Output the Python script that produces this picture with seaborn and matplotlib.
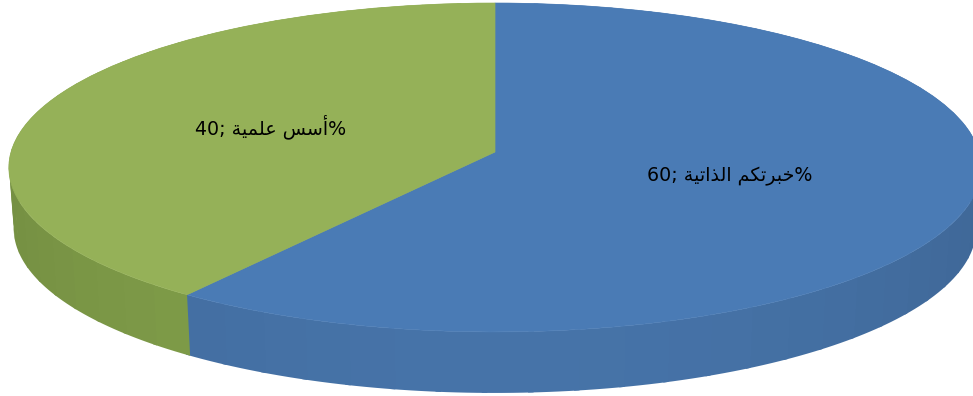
import numpy as np
import matplotlib
matplotlib.use("Agg")
import matplotlib.pyplot as plt
from matplotlib.transforms import Transform
import seaborn as sns

# Chart content
share_values = [60, 40]
share_names = ["خبرتكم الذاتية", "أسس علمية"]
face_colors = ["#4A7BB5", "#95B158"]
side_colors = ["#4673A8", "#82A04A"]
label_spots = [(730, 176), (270.5, 127)]

# Tilted-disc geometry, in figure pixels
CX, CY = 495.0, 152.0
RX, RY = 484.0, 163.0
FORESHORTEN = 0.0942
DEPTH = 61.0
BASE_SCALE = 0.99
FACET_DEG = 5.0
FACET_OVERLAP = np.radians(0.6)


class DiscProjection(Transform):
    """Perspective view of the unit pie circle, lying tilted away from the viewer."""
    input_dims = 2
    output_dims = 2
    is_separable = False

    def __init__(self, drop=0.0, scale=1.0):
        super().__init__()
        self.drop = drop
        self.scale = scale

    def transform_non_affine(self, values):
        values = np.asarray(values, dtype=float)
        u, v = values[:, 0], values[:, 1]
        w = 1.0 + FORESHORTEN * v
        return np.column_stack([CX + self.scale * RX * u / w,
                                CY + self.drop - RY * v / w])


# Arabic letters as (isolated, final, initial, medial) presentation forms
FORMS = {
    "ا": ("\uFE8D", "\uFE8E", None, None),
    "أ": ("\uFE83", "\uFE84", None, None),
    "ذ": ("\uFEAB", "\uFEAC", None, None),
    "ر": ("\uFEAD", "\uFEAE", None, None),
    "ة": ("\uFE93", "\uFE94", None, None),
    "ب": ("\uFE8F", "\uFE90", "\uFE91", "\uFE92"),
    "ت": ("\uFE95", "\uFE96", "\uFE97", "\uFE98"),
    "خ": ("\uFEA5", "\uFEA6", "\uFEA7", "\uFEA8"),
    "س": ("\uFEB1", "\uFEB2", "\uFEB3", "\uFEB4"),
    "ع": ("\uFEC9", "\uFECA", "\uFECB", "\uFECC"),
    "ك": ("\uFED9", "\uFEDA", "\uFEDB", "\uFEDC"),
    "ل": ("\uFEDD", "\uFEDE", "\uFEDF", "\uFEE0"),
    "م": ("\uFEE1", "\uFEE2", "\uFEE3", "\uFEE4"),
    "ي": ("\uFEF1", "\uFEF2", "\uFEF3", "\uFEF4"),
}


def shape_word(word):
    """Join the letters of one word and return them in left-to-right drawing order."""
    shaped = []
    for i, ch in enumerate(word):
        before = i > 0 and FORMS[word[i - 1]][2] is not None
        after = i < len(word) - 1 and FORMS[ch][2] is not None
        forms = FORMS[ch]
        if before and after:
            shaped.append(forms[3])
        elif before:
            shaped.append(forms[1])
        elif after:
            shaped.append(forms[2])
        else:
            shaped.append(forms[0])
    return "".join(reversed(shaped))


def slice_label(name, value):
    words = [shape_word(w) for w in name.split(" ")]
    return f"{value}; " + " ".join(reversed(words)) + "%"


sns.set_theme(style="white")
plt.rcParams["font.family"] = ["DejaVu Sans"]

fig = plt.figure(figsize=(9.73, 3.96), dpi=100, facecolor="white")
ax = fig.add_axes([0, 0, 1, 1])

wedges, _ = ax.pie(share_values, colors=sns.color_palette(face_colors), startangle=90,
                   counterclock=False, radius=1.0,
                   wedgeprops={"linewidth": 0.5, "zorder": 3})
ax.set_aspect("auto")
ax.set_xlim(0, 973)
ax.set_ylim(396, 0)
ax.axis("off")

top_face = DiscProjection()
bottom_rim = DiscProjection(drop=DEPTH, scale=BASE_SCALE)
for wedge in wedges:
    wedge.set_edgecolor(wedge.get_facecolor())
    wedge.set_transform(top_face + ax.transData)

# Rim: narrow facets around each slice, a little darker towards the sides.
# Each facet runs slightly under the next one so no seam shows between them.
start = 90.0
total = sum(share_values)
for value, base in zip(share_values, side_colors):
    sweep = 360.0 * value / total
    n_facets = max(1, int(round(sweep / FACET_DEG)))
    edges = np.radians(start - np.linspace(0, sweep, n_facets + 1))
    base_rgb = np.array(matplotlib.colors.to_rgb(base))
    for a0, a1 in zip(edges[:-1], edges[1:]):
        arc = np.linspace(a0, a1 - FACET_OVERLAP, 6)
        ring = np.column_stack([np.cos(arc), np.sin(arc)])
        upper = top_face.transform(ring)
        lower = bottom_rim.transform(ring)
        quad = np.vstack([upper, lower[::-1]])
        mid = 0.5 * (a0 + a1)
        shade = 1.0 - 0.10 * abs(np.cos(mid)) ** 2
        color = tuple(base_rgb * shade)
        ax.fill(quad[:, 0], quad[:, 1], facecolor=color, edgecolor="none",
                linewidth=0, zorder=1)
    start -= sweep

for name, value, spot in zip(share_names, share_values, label_spots):
    ax.text(spot[0], spot[1], slice_label(name, value), ha="center", va="center",
            fontsize=13.7, color="black", zorder=5)

fig.savefig("out.png", dpi=100, facecolor="white")
